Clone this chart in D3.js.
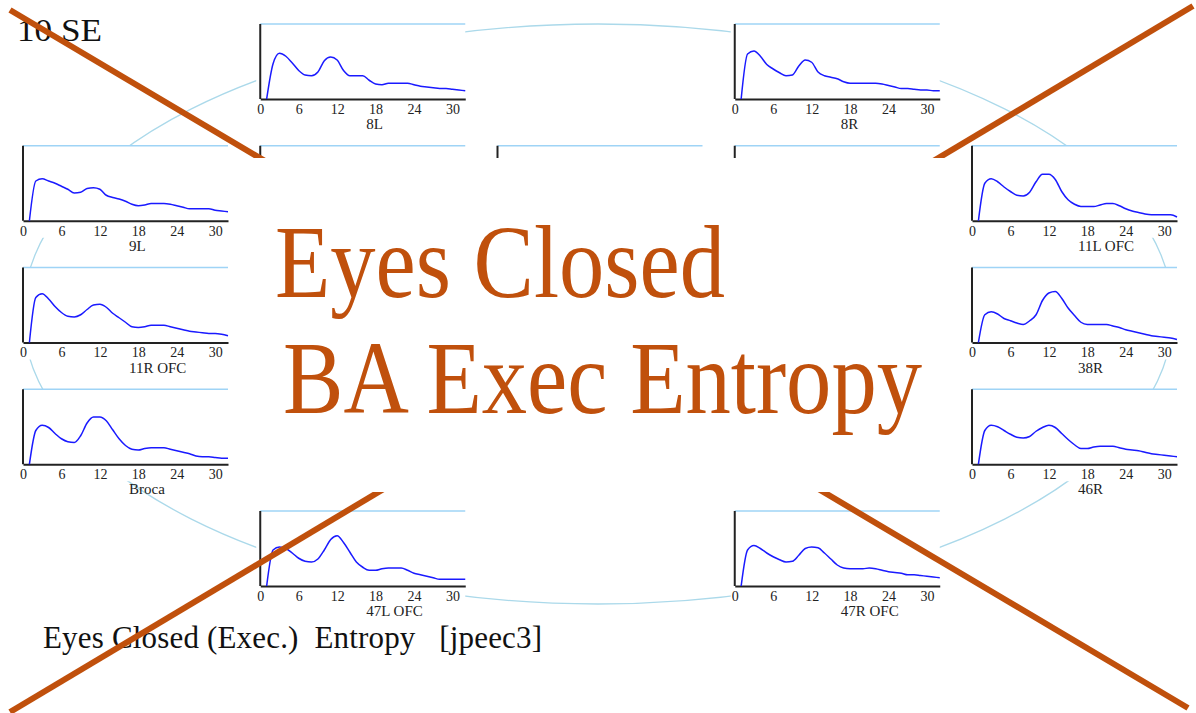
<!DOCTYPE html>
<html>
<head>
<meta charset="utf-8">
<script src="https://cdn.jsdelivr.net/npm/d3@7"></script>
<style>
  body { margin: 0; background: #fff; }
  svg { display: block; font-family: "Liberation Serif", "Times New Roman", serif; }
</style>
</head>
<body>
<svg id="chart"></svg>
<script>
// frequency bins (Hz) and axis ticks
var freqs = [1, 2, 3, 4, 5, 6, 7, 8, 9, 10, 11, 12, 13, 14, 15, 16,
             17, 18, 19, 20, 21, 22, 23, 24, 25, 26, 27, 28, 29, 30, 31, 32];
var xTicks = [0, 6, 12, 18, 24, 30];

// region names, in drawing order
var regions = ["8L", "8R", "9L", "11R OFC", "Broca", "11L OFC", "38R", "46R", "47L OFC", "47R OFC"];

// relative entropy spectra
var val8L   = [0, .47, .61, .57, .48, .38, .32, .31, .36, .51, .56, .52, .38, .31, .31, .31,
               .25, .20, .19, .21, .21, .21, .21, .19, .17, .16, .15, .14, .14, .13, .12, .11];
var val8R   = [0, .60, .64, .57, .46, .40, .35, .31, .32, .44, .52, .49, .36, .31, .29, .27,
               .23, .21, .21, .21, .21, .21, .20, .18, .16, .14, .14, .13, .12, .12, .11, .11];
var val9L   = [0, .53, .56, .53, .50, .46, .42, .37, .38, .43, .44, .42, .34, .31, .29, .26,
               .22, .20, .21, .23, .23, .23, .22, .20, .18, .16, .16, .16, .16, .14, .13, .12];
var val11R  = [0, .60, .65, .58, .48, .40, .35, .34, .37, .44, .50, .51, .47, .39, .33, .27,
               .21, .20, .21, .23, .23, .23, .21, .19, .17, .15, .14, .13, .12, .12, .11, .09];
var valBroca = [0, .45, .52, .49, .41, .34, .30, .29, .38, .55, .63, .63, .58, .46, .34, .25,
               .20, .19, .21, .22, .22, .22, .20, .18, .16, .14, .11, .10, .10, .09, .08, .08];
var val11L  = [0, .50, .56, .52, .45, .39, .34, .33, .38, .52, .62, .62, .55, .39, .28, .22,
               .19, .19, .19, .21, .23, .23, .20, .16, .13, .11, .09, .08, .08, .08, .08, .05];
var val38R  = [0, .37, .41, .38, .32, .29, .26, .24, .29, .37, .56, .66, .68, .59, .46, .36,
               .27, .24, .24, .24, .24, .22, .20, .17, .15, .13, .11, .09, .08, .07, .06, .04];
var val46R  = [0, .45, .52, .50, .45, .40, .36, .35, .37, .44, .49, .52, .49, .41, .33, .26,
               .21, .21, .23, .24, .24, .24, .22, .20, .19, .18, .16, .14, .13, .12, .11, .10];
var val47L  = [0, .48, .52, .50, .44, .37, .33, .32, .36, .48, .62, .67, .58, .45, .32, .25,
               .21, .21, .23, .24, .24, .24, .21, .17, .15, .13, .11, .09, .09, .09, .09, .09];
var val47R  = [0, .48, .54, .50, .44, .39, .35, .32, .33, .41, .50, .52, .51, .44, .36, .28,
               .24, .23, .23, .23, .24, .23, .21, .19, .18, .17, .15, .15, .14, .13, .12, .11];

var series = [val8L, val8R, val9L, val11R, valBroca, val11L, val38R, val46R, val47L, val47R];

// grid slot (column, row) of each region on the 5x5 layout
var slotCol = [1, 3, 0, 0, 0, 4, 4, 4, 1, 3];
var slotRow = [0, 0, 1, 2, 3, 1, 2, 3, 4, 4];

var W = 1196, H = 713;
var svg = d3.select("#chart").attr("width", W).attr("height", H);

var panelW = 205, panelH = 75;
var colX = d3.scaleLinear().domain([0, 4]).range([23, 972]);
var rowY = d3.scaleLinear().domain([0, 4]).range([24, 511]);

var x = d3.scaleLinear().domain([0, 32]).range([0, panelW]);
var y = d3.scaleLinear().domain([0, 1]).range([panelH, 0]);

var rust = "#c0500c";

// background ellipse linking the regions
svg.append("ellipse")
  .attr("cx", 598).attr("cy", 314)
  .attr("rx", 575).attr("ry", 290)
  .attr("fill", "none")
  .attr("stroke", "#abd9ea")
  .attr("stroke-width", 1.3);

// frame of one small panel (background, top rule, axes)
function drawFrame(g) {
  g.append("rect")
    .attr("x", -4).attr("y", 0)
    .attr("width", panelW + 4).attr("height", panelH + 17)
    .attr("fill", "#fff");

  g.append("line")
    .attr("x1", 0).attr("x2", panelW)
    .attr("y1", 0).attr("y2", 0)
    .attr("stroke", "#9fd4f6")
    .attr("stroke-width", 1.6);

  var ax = g.append("g")
    .attr("transform", "translate(0," + panelH + ")")
    .call(d3.axisBottom(x).tickValues(xTicks).tickSize(0).tickSizeOuter(0).tickPadding(5));
  ax.select(".domain").attr("stroke", "#222").attr("stroke-width", 2);
  ax.selectAll("text")
    .attr("font-family", "Liberation Serif, serif")
    .attr("font-size", 14)
    .attr("fill", "#222");

  g.append("line")
    .attr("x1", 0).attr("x2", 0)
    .attr("y1", 0).attr("y2", panelH)
    .attr("stroke", "#222")
    .attr("stroke-width", 2);
}

// slots in the middle, hidden behind the title card (only their tops show)
for (var r = 1; r <= 3; r++) {
  for (var c = 1; c <= 3; c++) {
    var hg = svg.append("g").attr("transform", "translate(" + colX(c) + "," + rowY(r) + ")");
    drawFrame(hg);
  }
}

var line = d3.line()
  .curve(d3.curveMonotoneX)
  .x(function(d) { return x(d[0]); })
  .y(function(d) { return y(d[1]); });

regions.forEach(function(name, i) {
  var g = svg.append("g")
    .attr("transform", "translate(" + colX(slotCol[i]) + "," + rowY(slotRow[i]) + ")");
  drawFrame(g);

  g.append("path")
    .datum(d3.zip(freqs, series[i]))
    .attr("d", line)
    .attr("fill", "none")
    .attr("stroke", "#1a1aff")
    .attr("stroke-width", 1.5);

  g.append("text")
    .attr("x", 106)
    .attr("y", panelH + 30)
    .attr("font-size", 15)
    .attr("fill", "#222")
    .text(name);
});

// corner label and caption
svg.append("text")
  .attr("x", 17).attr("y", 41)
  .attr("font-size", 31)
  .attr("fill", "#111")
  .attr("textLength", 85)
  .attr("lengthAdjust", "spacingAndGlyphs")
  .text("10 SE");

svg.append("text")
  .attr("x", 43).attr("y", 648)
  .attr("font-size", 31)
  .attr("fill", "#111")
  .attr("textLength", 499)
  .style("white-space", "pre")
  .text("Eyes Closed (Exec.)  Entropy   [jpeec3]");

// the big cross
svg.append("line")
  .attr("x1", 10).attr("y1", 10).attr("x2", 1188).attr("y2", 708)
  .attr("stroke", rust).attr("stroke-width", 6);
svg.append("line")
  .attr("x1", 10).attr("y1", 712).attr("x2", 1193).attr("y2", 6)
  .attr("stroke", rust).attr("stroke-width", 6);

// title card
svg.append("rect")
  .attr("x", 240).attr("y", 158)
  .attr("width", 720).attr("height", 334)
  .attr("fill", "#fff");

svg.append("text")
  .attr("x", 275).attr("y", 297)
  .attr("font-size", 104)
  .attr("fill", rust)
  .attr("textLength", 450)
  .attr("lengthAdjust", "spacingAndGlyphs")
  .text("Eyes Closed");

svg.append("text")
  .attr("x", 283).attr("y", 413)
  .attr("font-size", 104)
  .attr("fill", rust)
  .attr("textLength", 639)
  .attr("lengthAdjust", "spacingAndGlyphs")
  .text("BA Exec Entropy");
</script>
</body>
</html>
